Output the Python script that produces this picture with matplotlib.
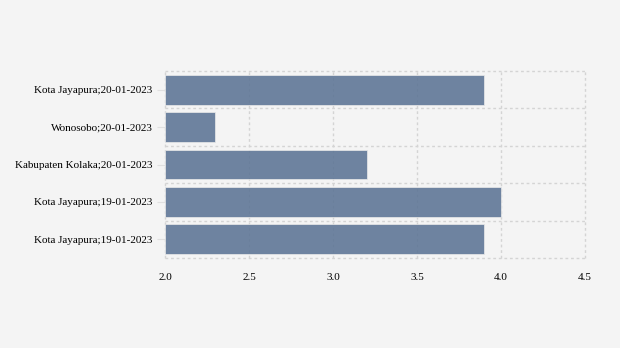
import numpy as np
import matplotlib.pyplot as plt

labels = ['Kota Jayapura;20-01-2023', 'Wonosobo;20-01-2023', 'Kabupaten Kolaka;20-01-2023',
          'Kota Jayapura;19-01-2023', 'Kota Jayapura;19-01-2023']
values = [3.9, 2.3, 3.2, 4.0, 3.9]
xticks = [2.0, 2.5, 3.0, 3.5, 4.0, 4.5]

plt.rcParams['font.family'] = ['Liberation Serif', 'DejaVu Serif']

fig = plt.figure(figsize=(6.2, 3.48), dpi=100, facecolor='#f4f4f4')
ax = fig.add_axes([165/620, 1-258/348, 420/620, 187/348])
ax.set_facecolor('#f4f4f4')

y = np.arange(len(labels))
ax.barh(y, np.array(values) - 2.0, left=2.0, height=0.8, color='#5c7495', alpha=0.88,
        edgecolor='#e8e8e8', linewidth=0.6, zorder=3)

ax.set_xlim(2.0, 4.5)
ax.set_ylim(len(labels) - 0.5, -0.5)
ax.set_xticks(xticks)
ax.set_xticklabels([f'{t:.1f}' for t in xticks])
ax.set_yticks(y)
ax.set_yticklabels(labels)
ax.set_yticks(np.arange(-0.5, len(labels)), minor=True)

ax.grid(True, axis='x', color='#d4d4d4', linestyle=(0, (2, 2)), linewidth=1, zorder=1)
ax.grid(True, axis='y', which='minor', color='#d4d4d4', linestyle=(0, (2, 2)), linewidth=1, zorder=1)
ax.grid(False, axis='y', which='major')
ax.set_axisbelow(True)

for s in ax.spines.values():
    s.set_visible(False)

ax.tick_params(axis='y', which='major', length=6, color='#e0e0e0', labelsize=8, pad=3)
ax.tick_params(axis='y', which='minor', length=0)
ax.tick_params(axis='x', length=0, labelsize=8, pad=11)

for t in ax.xaxis.get_major_ticks() + ax.yaxis.get_minor_ticks():
    t.gridline.set_clip_on(False)

fig.savefig('out.png', dpi=100, facecolor='#f4f4f4')
